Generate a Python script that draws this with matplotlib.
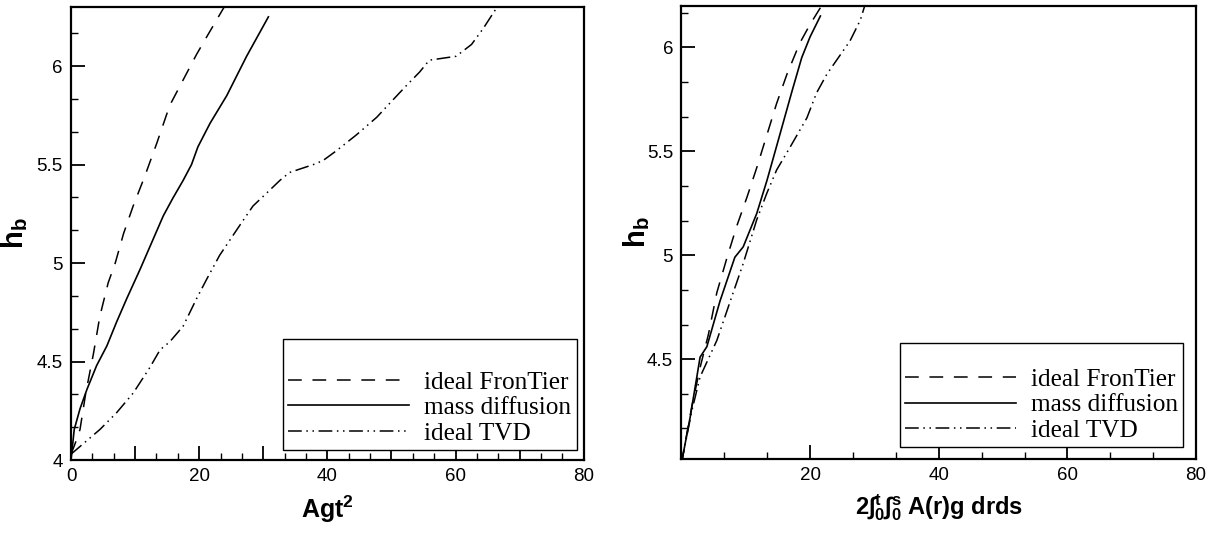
import matplotlib
matplotlib.use("Agg")
import matplotlib.pyplot as plt
from matplotlib.ticker import MultipleLocator, FuncFormatter

plt.rcParams['font.family'] = ['Liberation Sans', 'DejaVu Sans']
plt.rcParams['mathtext.fontset'] = 'custom'
plt.rcParams['mathtext.rm'] = 'Liberation Sans'
plt.rcParams['mathtext.bf'] = 'Liberation Sans:bold'
plt.rcParams['mathtext.it'] = 'Liberation Sans:italic'

# left panel: h_b against Agt^2
left_frontier_x = [0, 0.6, 1.4, 2.3, 3.5, 4.5, 5.8, 6.9, 8.2, 9.7, 11.5, 13.4, 15.4, 17.5, 19.6, 21.2, 23.9]
left_frontier_y = [4.03, 4.08, 4.155, 4.34, 4.54, 4.73, 4.90, 5.0, 5.15, 5.29, 5.44, 5.61, 5.80, 5.93, 6.06, 6.15, 6.30]
left_mass_x = [0, 0.5, 1.4, 2.5, 4.0, 5.6, 7.1, 8.7, 10.8, 12.8, 14.4, 15.9, 17.5, 18.8, 19.8, 21.7, 24.3, 27.4, 30.8]
left_mass_y = [4.0, 4.155, 4.26, 4.36, 4.48, 4.58, 4.70, 4.82, 4.97, 5.12, 5.24, 5.33, 5.42, 5.50, 5.59, 5.71, 5.85, 6.05, 6.25]
left_tvd_x = [0, 4.5, 7.1, 9.7, 12.3, 13.9, 15.4, 17.5, 19.6, 21.2, 23.2, 26.3, 28.4, 31.0, 32.6, 34.1, 37.8,
              39.3, 41.4, 44.5, 47.7, 49.7, 52.3, 54.4, 55.9, 58.0, 60.1, 62.5, 64.3, 66.3]
left_tvd_y = [4.03, 4.155, 4.24, 4.34, 4.47, 4.56, 4.60, 4.68, 4.82, 4.92, 5.04, 5.19, 5.29, 5.37, 5.42, 5.46, 5.50,
              5.52, 5.57, 5.65, 5.74, 5.81, 5.90, 5.97, 6.03, 6.04, 6.05, 6.11, 6.19, 6.29]

# right panel: h_b against the double time integral
right_frontier_x = [0, 1.6, 2.9, 4.2, 5.5, 7.1, 8.6, 10.2, 11.7, 13.3, 14.8, 16.4, 18.4, 20.0, 21.6]
right_frontier_y = [4.0, 4.27, 4.46, 4.62, 4.82, 4.99, 5.14, 5.28, 5.42, 5.58, 5.73, 5.87, 6.02, 6.11, 6.19]
right_mass_x = [0, 1.35, 2.9, 3.95, 6.0, 8.3, 9.6, 11.7, 13.3, 15.3, 17.2, 18.7, 20.0, 21.6]
right_mass_y = [4.0, 4.22, 4.51, 4.56, 4.78, 4.99, 5.04, 5.20, 5.36, 5.58, 5.79, 5.95, 6.05, 6.15]
right_tvd_x = [0, 1.6, 2.9, 5.5, 7.6, 9.6, 11.7, 13.3, 14.8, 16.9, 19.5, 21.0, 22.6, 26.2, 27.8, 28.5]
right_tvd_y = [4.0, 4.25, 4.415, 4.59, 4.78, 4.96, 5.17, 5.30, 5.41, 5.52, 5.66, 5.78, 5.87, 6.03, 6.13, 6.20]

labels = ['ideal FronTier', 'mass diffusion', 'ideal TVD']
dash_style = (0, (9, 7))
dashdotdot_style = (0, (9, 3, 1, 3, 1, 3))


def style_axes(ax, xmajor, xminor, xlabel_step, xlim, ylim, hide_zero=False):
    ax.set_xlim(xlim)
    ax.set_ylim(ylim)
    ax.xaxis.set_major_locator(MultipleLocator(xmajor))
    ax.xaxis.set_minor_locator(MultipleLocator(xminor))
    ax.yaxis.set_major_locator(MultipleLocator(0.5))
    ax.yaxis.set_minor_locator(MultipleLocator(0.5 / 3))

    def xfmt(v, pos):
        if abs(v % xlabel_step) > 1e-6 and abs(v % xlabel_step - xlabel_step) > 1e-6:
            return ''
        if hide_zero and abs(v) < 1e-6:
            return ''
        return '%g' % v
    ax.xaxis.set_major_formatter(FuncFormatter(xfmt))
    ax.yaxis.set_major_formatter(FuncFormatter(lambda v, p: '%g' % v))
    for i in ['top', 'bottom', 'left', 'right']:
        ax.spines[i].set_linewidth(1.6)
    ax.tick_params(axis='both', which='major', direction='in', length=10, width=1.3,
                   labelsize=13.5, pad=6)
    ax.tick_params(axis='both', which='minor', direction='in', length=5, width=1.0)


def draw_lines(ax, fx, fy, mx, my, tx, ty, anchor, title_size, hlen):
    ax.plot(fx, fy, color='black', lw=1.1, ls=dash_style, label=labels[0])
    ax.plot(mx, my, color='black', lw=1.2, ls='-', label=labels[1])
    ax.plot(tx, ty, color='black', lw=1.1, ls=dashdotdot_style, label=labels[2])
    leg = ax.legend(loc='lower right', bbox_to_anchor=anchor, frameon=True, fancybox=False,
                    edgecolor='black', framealpha=1, borderpad=0.2, labelspacing=0.12,
                    handlelength=hlen, handletextpad=0.6, borderaxespad=0.0,
                    title=' ', title_fontsize=title_size,
                    prop={'family': 'Liberation Serif', 'size': 18.2})
    leg.get_frame().set_linewidth(1.0)


fig = plt.figure(figsize=(12.16, 5.4), dpi=100)
ax1 = fig.add_axes([0.0584, 0.148, 0.4216, 0.839])
ax2 = fig.add_axes([0.5604, 0.150, 0.4232, 0.8396])

draw_lines(ax1, left_frontier_x, left_frontier_y, left_mass_x, left_mass_y, left_tvd_x, left_tvd_y,
           (0.986, 0.022), 18, 4.8)
style_axes(ax1, 10, 10 / 3, 20, (0, 80), (4, 6.3))
ax1.set_xlabel(r'$\mathbf{Agt^2}$', size=18, labelpad=6)
ax1.set_ylabel(r'$\mathbf{h_b}$', size=21)
ax1.yaxis.set_label_coords(-0.08, 0.5)

draw_lines(ax2, right_frontier_x, right_frontier_y, right_mass_x, right_mass_y, right_tvd_x, right_tvd_y,
           (0.975, 0.026), 14, 4.4)
style_axes(ax2, 20, 20 / 3, 20, (0, 80), (4.02, 6.2), hide_zero=True)
ax2.set_xlabel(r'$\mathbf{2\int{}_0^t\int{}_0^s\ A(r)g\ drds}$', size=17, labelpad=6)
ax2.set_ylabel(r'$\mathbf{h_b}$', size=21)
ax2.yaxis.set_label_coords(-0.057, 0.5)

fig.savefig('out.png', dpi=100)
plt.close()
